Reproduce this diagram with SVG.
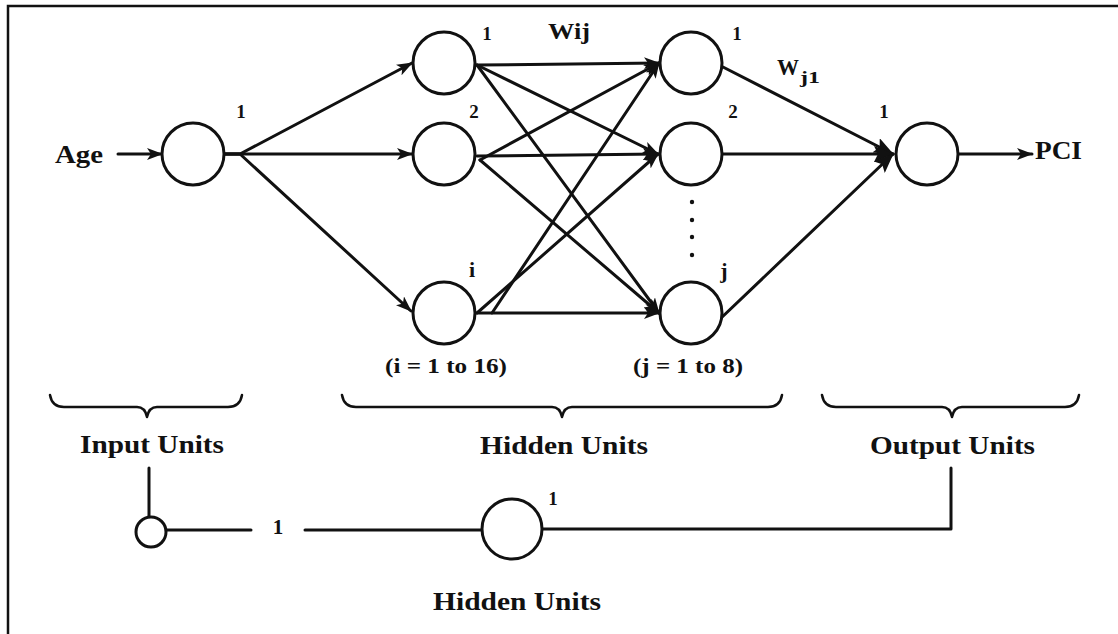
<svg xmlns="http://www.w3.org/2000/svg" width="1118" height="634" viewBox="0 0 1118 634">
<style>
.ln{fill:none;stroke:#111;stroke-width:3;stroke-linecap:round;stroke-linejoin:round}
.nd{fill:#fff;stroke:#111;stroke-width:3}
.t{font-family:"Liberation Serif","DejaVu Serif",serif;font-weight:bold;fill:#111}
.lbl{font-size:25px}
.num{font-size:19px}
.br{fill:none;stroke:#111;stroke-width:2.5;stroke-linecap:round;stroke-linejoin:round}
</style>
<defs>
<marker id="arr" viewBox="0 0 16 12" refX="15" refY="6" markerWidth="16" markerHeight="12" markerUnits="userSpaceOnUse" orient="auto">
<path d="M0,0 L16,6 L0,12 L4,6 Z" fill="#111"/>
</marker>
<marker id="arrL" viewBox="0 0 20 16" refX="19" refY="8" markerWidth="20" markerHeight="16" markerUnits="userSpaceOnUse" orient="auto">
<path d="M0,0 L20,8 L0,16 L4,8 Z" fill="#111"/>
</marker>
</defs>
<rect x="0" y="0" width="1118" height="634" fill="#fff"/>
<path d="M8,634 V6 H1118" fill="none" stroke="#111" stroke-width="2.5"/>

<g id="connectors">
<path class="ln" d="M118,154 H162" marker-end="url(#arr)"/>
<path class="ln" d="M223,154 H240 L412,63" marker-end="url(#arr)"/>
<path class="ln" d="M223,154 H412" marker-end="url(#arr)"/>
<path class="ln" d="M223,154 H240 L411,311" marker-end="url(#arr)"/>
<path class="ln" d="M477,65 L659,63" marker-end="url(#arr)"/>
<path class="ln" d="M477,65 L658,154" marker-end="url(#arr)"/>
<path class="ln" d="M477,65 L659,313" marker-end="url(#arr)"/>
<path class="ln" d="M480,160 L659,63" marker-end="url(#arr)"/>
<path class="ln" d="M477,156 L658,154" marker-end="url(#arr)"/>
<path class="ln" d="M480,160 L659,313" marker-end="url(#arr)"/>
<path class="ln" d="M492,313 L659,63" marker-end="url(#arr)"/>
<path class="ln" d="M477,313 L658,154" marker-end="url(#arr)"/>
<path class="ln" d="M477,313 L659,313" marker-end="url(#arr)"/>
<path class="ln" d="M721,66 L893,154" marker-end="url(#arrL)"/>
<path class="ln" d="M722,154 L893,154" marker-end="url(#arrL)"/>
<path class="ln" d="M719,320 L893,154" marker-end="url(#arrL)"/>
<path class="ln" d="M958,154 H1032" stroke-width="4" marker-end="url(#arr)"/>
<path class="ln" d="M149,468 V516"/>
<path class="ln" d="M166,530 H251"/>
<path class="ln" d="M305,530 H482"/>
<path class="ln" d="M542,529 H951 V468"/>
</g>

<g id="input-node"><circle class="nd" cx="193" cy="154" r="31"/></g>
<g id="hidden-i1"><circle class="nd" cx="444" cy="63" r="31"/></g>
<g id="hidden-i2"><circle class="nd" cx="444" cy="154" r="31"/></g>
<g id="hidden-ii"><circle class="nd" cx="444" cy="313" r="31"/></g>
<g id="hidden-j1"><circle class="nd" cx="691" cy="63" r="31"/></g>
<g id="hidden-j2"><circle class="nd" cx="691" cy="154" r="31"/></g>
<g id="hidden-jj"><circle class="nd" cx="691" cy="313" r="31"/></g>
<g id="output-node"><circle class="nd" cx="927" cy="154" r="31"/></g>
<g id="bias-input"><circle class="nd" cx="151" cy="532" r="15"/></g>
<g id="bias-hidden"><circle class="nd" cx="512" cy="529" r="30"/></g>

<g id="dots" fill="#111">
<circle cx="692" cy="202" r="2.2"/><circle cx="692" cy="220" r="2.2"/><circle cx="692" cy="237" r="2.2"/><circle cx="692" cy="255" r="2.2"/>
</g>

<g id="braces">
<path class="br" d="M50,395 Q52,407 64,407 H137 Q145,407 147,417 Q149,407 157,407 H228 Q240,407 242,395"/>
<path class="br" d="M342,395 Q344,407 356,407 H552 Q560,407 562,417 Q564,407 572,407 H768 Q780,407 782,395"/>
<path class="br" d="M822,395 Q824,407 836,407 H942 Q950,407 952,417 Q954,407 962,407 H1065 Q1077,407 1079,395"/>
</g>

<g id="labels">
<text class="t lbl" x="55" y="163" textLength="48" lengthAdjust="spacingAndGlyphs">Age</text>
<text class="t lbl" x="1035" y="159" textLength="47" lengthAdjust="spacingAndGlyphs">PCI</text>
<text class="t" x="548" y="39" font-size="23" textLength="42" lengthAdjust="spacingAndGlyphs">Wij</text>
<text class="t" x="777" y="75" font-size="24" textLength="22" lengthAdjust="spacingAndGlyphs">W</text>
<text class="t" x="800" y="83" font-size="17" textLength="20" lengthAdjust="spacingAndGlyphs">j1</text>
<text class="t num" x="241" y="118" text-anchor="middle">1</text>
<text class="t num" x="487" y="40" text-anchor="middle">1</text>
<text class="t num" x="474" y="118" text-anchor="middle">2</text>
<text class="t" x="472" y="277" font-size="22" text-anchor="middle">i</text>
<text class="t num" x="737" y="40" text-anchor="middle">1</text>
<text class="t num" x="733" y="118" text-anchor="middle">2</text>
<text class="t" x="724" y="278" font-size="22" text-anchor="middle">j</text>
<text class="t num" x="884" y="118" text-anchor="middle">1</text>
<text class="t" x="385" y="373" font-size="20" textLength="122" lengthAdjust="spacingAndGlyphs">(i = 1 to 16)</text>
<text class="t" x="633" y="373" font-size="20" textLength="110" lengthAdjust="spacingAndGlyphs">(j = 1 to 8)</text>
<text class="t lbl" x="80" y="453" textLength="144" lengthAdjust="spacingAndGlyphs">Input Units</text>
<text class="t lbl" x="480" y="454" textLength="168" lengthAdjust="spacingAndGlyphs">Hidden Units</text>
<text class="t lbl" x="870" y="454" textLength="165" lengthAdjust="spacingAndGlyphs">Output Units</text>
<text class="t" x="278" y="534" font-size="21" text-anchor="middle">1</text>
<text class="t num" x="553" y="505" text-anchor="middle">1</text>
<text class="t lbl" x="433" y="610" textLength="168" lengthAdjust="spacingAndGlyphs">Hidden Units</text>
</g>
</svg>
